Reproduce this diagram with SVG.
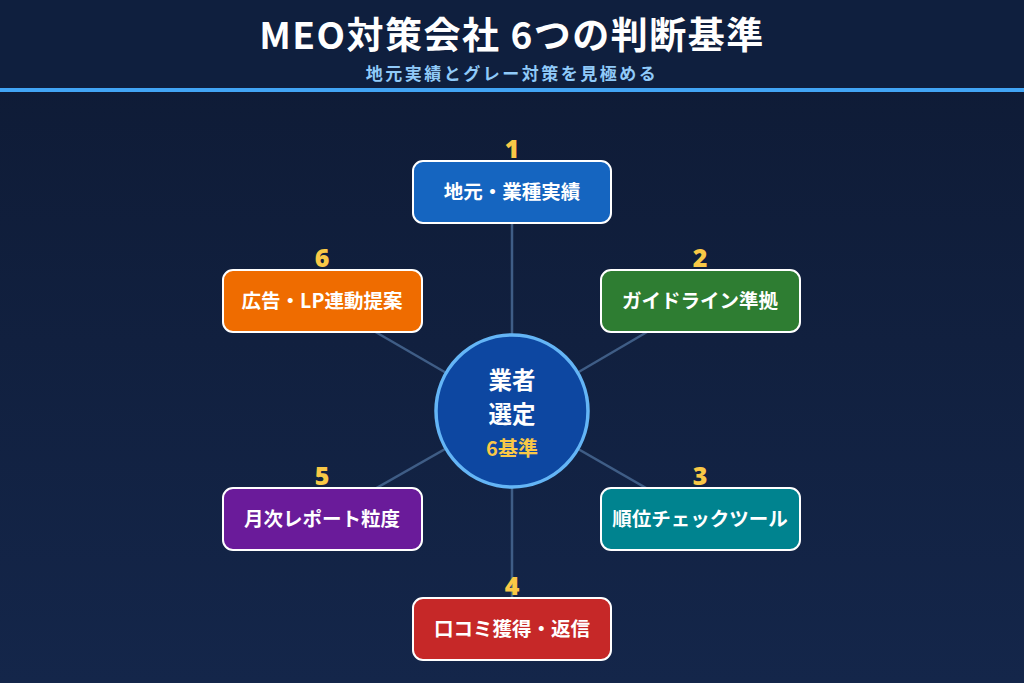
<svg xmlns="http://www.w3.org/2000/svg" width="1024" height="683" viewBox="0 0 1024 683">
<defs>
<linearGradient id="bg" x1="0" y1="0" x2="0" y2="1">
<stop offset="0" stop-color="#0e1a34"/>
<stop offset="1" stop-color="#14264a"/>
</linearGradient>
<style>
.t{font-family:"Noto Sans CJK JP","Noto Sans",sans-serif;font-weight:700;text-anchor:middle}
.box{stroke:#ffffff;stroke-width:2}
.lbl{fill:#ffffff;font-size:19.5px}
.num{fill:#f9c846;font-size:25px;font-family:"Open Sans","Noto Sans",sans-serif;font-weight:800;text-anchor:middle}
.con{stroke:#3f5d86;stroke-width:2.5;fill:none}
</style>
</defs>
<rect width="1024" height="683" fill="url(#bg)"/>
<rect width="1024" height="88" fill="#0f1f3e"/>
<rect y="88" width="1024" height="4" fill="#42a5f5"/>
<text class="t" x="512" y="49" font-size="37" font-weight="900" letter-spacing="1.5" fill="#ffffff">MEO対策会社 6つの判断基準</text>
<text class="t" x="512" y="80" font-size="17" fill="#90caf9" font-weight="500" letter-spacing="2.5">地元実績とグレー対策を見極める</text>
<g id="connectors">
<line class="con" x1="512" y1="411" x2="512" y2="192"/>
<line class="con" x1="512" y1="411" x2="700" y2="301"/>
<line class="con" x1="512" y1="411" x2="700" y2="519"/>
<line class="con" x1="512" y1="411" x2="512" y2="629"/>
<line class="con" x1="512" y1="411" x2="322" y2="519"/>
<line class="con" x1="512" y1="411" x2="322" y2="301"/>
</g>
<g id="n1">
<rect class="box" x="413" y="161" width="198" height="62" rx="10" fill="#1565c0"/>
<text class="num" x="512" y="158">1</text>
<text class="t lbl" x="512" y="199">地元・業種実績</text>
</g>
<g id="n2">
<rect class="box" x="601" y="270" width="199" height="62" rx="10" fill="#2e7d32"/>
<text class="num" x="700" y="267">2</text>
<text class="t lbl" x="700" y="308">ガイドライン準拠</text>
</g>
<g id="n3">
<rect class="box" x="601" y="488" width="199" height="62" rx="10" fill="#00838f"/>
<text class="num" x="700" y="485">3</text>
<text class="t lbl" x="700" y="526">順位チェックツール</text>
</g>
<g id="n4">
<rect class="box" x="413" y="598" width="198" height="62" rx="10" fill="#c62828"/>
<text class="num" x="512" y="595">4</text>
<text class="t lbl" x="512" y="636">口コミ獲得・返信</text>
</g>
<g id="n5">
<rect class="box" x="223" y="488" width="199" height="62" rx="10" fill="#6a1b9a"/>
<text class="num" x="322" y="485">5</text>
<text class="t lbl" x="322" y="526">月次レポート粒度</text>
</g>
<g id="n6">
<rect class="box" x="223" y="270" width="199" height="62" rx="10" fill="#ef6c00"/>
<text class="num" x="322" y="267">6</text>
<text class="t lbl" x="322" y="308">広告・LP連動提案</text>
</g>
<g id="center">
<circle cx="512" cy="411" r="76" fill="#0d47a1" stroke="#64b5f6" stroke-width="3.5"/>
<text class="t" x="512" y="389" font-size="23.5" font-weight="900" fill="#ffffff">業者</text>
<text class="t" x="512" y="423" font-size="23.5" font-weight="900" fill="#ffffff">選定</text>
<text class="t" x="512" y="456" font-size="20" font-weight="900" fill="#f9c846">6基準</text>
</g>
</svg>
